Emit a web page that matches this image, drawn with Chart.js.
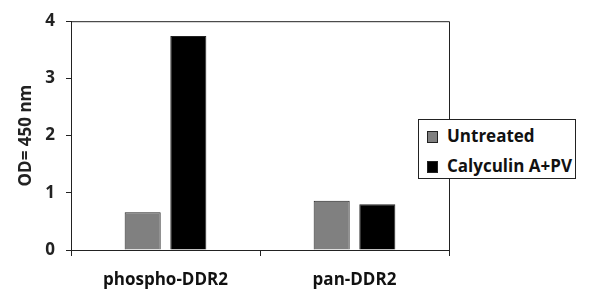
<!DOCTYPE html>
<html>
<head>
<meta charset="utf-8">
<script src="https://cdn.jsdelivr.net/npm/chart.js@4.4.1/dist/chart.umd.min.js"></script>
<style>
  body { margin: 0; background: #fff; }
  #wrap { position: relative; width: 590px; height: 307px; }
  #legend {
    position: absolute; left: 418px; top: 119px; width: 158px; height: 60px;
    border: 1px solid #222; background: #fff; box-sizing: border-box;
    font: bold 17px "Open Sans", sans-serif; color: #111;
  }
  #legend div { position: absolute; left: 8px; height: 24px; line-height: 24px; white-space: nowrap; }
  #legend span.box { display: inline-block; width: 9px; height: 10px; border: 1px solid #222; margin-right: 9px; vertical-align: -1px; }
</style>
</head>
<body>
<div id="wrap">
  <canvas id="odChart" width="590" height="307"></canvas>
  <div id="legend"></div>
</div>
<script>
// datos
const categorias = ['phospho-DDR2', 'pan-DDR2'];
const untreated = [0.66, 0.86];
const calyculin = [3.74, 0.80];
const yTicks = [0, 1, 2, 3, 4];

// marco superior y derecho del area del grafico
const marco = {
    id: 'marco',
    afterDraw(chart) {
        const a = chart.chartArea, c = chart.ctx;
        c.save();
        c.strokeStyle = '#222';
        c.lineWidth = 1;
        c.beginPath();
        c.moveTo(a.left, a.top + 0.5);
        c.lineTo(a.right + 0.5, a.top + 0.5);
        c.lineTo(a.right + 0.5, a.bottom);
        c.stroke();
        c.restore();
    }
};

const ctx = document.getElementById('odChart').getContext('2d');
const chart = new Chart(ctx, {
    type: 'bar',
    data: {
        labels: categorias,
        datasets: [{
            label: 'Untreated',
            data: untreated,
            backgroundColor: '#808080',
            borderColor: '#222',
            borderWidth: 1,
            categoryPercentage: 0.483,
            barPercentage: 0.79
        }, {
            label: 'Calyculin A+PV',
            data: calyculin,
            backgroundColor: '#000',
            borderColor: '#222',
            borderWidth: 1,
            categoryPercentage: 0.483,
            barPercentage: 0.79
        }]
    },
    options: {
        responsive: false,
        animation: false,
        layout: { padding: { top: 20, right: 141, left: 0, bottom: 0 } },
        plugins: {
            legend: { display: false },
            tooltip: { enabled: false }
        },
        scales: {
            y: {
                min: 0,
                max: 4,
                afterBuildTicks: s => { s.ticks = yTicks.map(v => ({ value: v })); },
                afterFit: s => { s.width = 71; },
                ticks: {
                    font: { family: 'Open Sans', size: 17, weight: 'bold' },
                    color: '#222',
                    padding: 11
                },
                grid: { display: true, drawOnChartArea: false, tickLength: 5, color: '#222' },
                border: { display: true, color: '#222', width: 1 },
                title: {
                    display: true,
                    text: 'OD= 450 nm',
                    font: { family: 'Open Sans', size: 17, weight: 'bold' },
                    color: '#222',
                    padding: { top: 16, bottom: 4 }
                }
            },
            x: {
                afterFit: s => { s.height = 57; },
                ticks: {
                    font: { family: 'Open Sans', size: 17, weight: 'bold' },
                    color: '#111',
                    padding: 14
                },
                grid: { display: true, drawOnChartArea: false, tickLength: 6, color: '#222', offset: true },
                border: { display: true, color: '#222', width: 1 }
            }
        }
    },
    plugins: [marco]
});

// leyenda como texto HTML
const leg = document.getElementById('legend');
chart.data.datasets.forEach(function (ds, i) {
    const row = document.createElement('div');
    row.style.top = (4 + i * 30) + 'px';
    row.innerHTML = '<span class="box" style="background:' + ds.backgroundColor + '"></span>' + ds.label;
    leg.appendChild(row);
});
</script>
</body>
</html>
